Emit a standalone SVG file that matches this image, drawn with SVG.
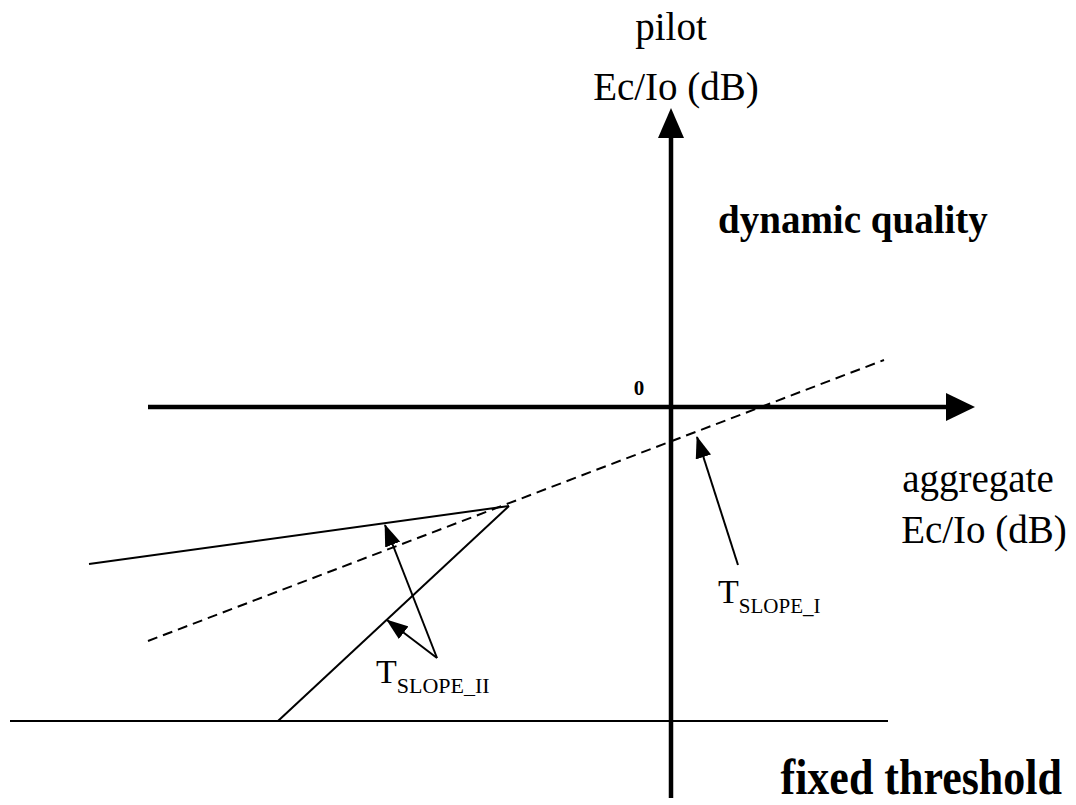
<svg xmlns="http://www.w3.org/2000/svg" width="1076" height="805" viewBox="0 0 1076 805">
<defs>
<style>
.t{font-family:"Liberation Serif","Times New Roman",serif;fill:#000}
.b{font-weight:bold}
.ax{stroke:#000;stroke-width:4.5;fill:none}
.ln{stroke:#000;stroke-width:2;fill:none}
.dash{stroke:#000;stroke-width:2;fill:none;stroke-dasharray:10,6}
</style>
<marker id="ahs" markerWidth="22" markerHeight="16" refX="21" refY="8" orient="auto" markerUnits="userSpaceOnUse">
<path d="M0,0 L22,8 L0,16 Z" fill="#000"/>
</marker>
</defs>
<rect width="1076" height="805" fill="#fff"/>
<g id="connectors">
<line class="ax" x1="671" y1="798" x2="671" y2="134"/>
<polygon points="671,108 658,138 684,138" fill="#000"/>
<line class="ax" x1="148" y1="407" x2="950" y2="407"/>
<polygon points="975,407 946,393 946,421" fill="#000"/>
<line class="ln" x1="10" y1="721" x2="888" y2="721" stroke-width="3"/>
<line class="dash" x1="148" y1="641" x2="884" y2="360"/>
<polyline class="ln" points="89,564 509,506" stroke-width="2.6"/>
<polyline class="ln" points="509,506 278,721"/>
<line class="ln" x1="437" y1="658" x2="385" y2="525" marker-end="url(#ahs)"/>
<line class="ln" x1="437" y1="658" x2="387" y2="620" marker-end="url(#ahs)"/>
<line class="ln" x1="738" y1="565" x2="697" y2="437" marker-end="url(#ahs)"/>
</g>
<g id="y-axis-label">
<text class="t" x="671" y="40" font-size="39" text-anchor="middle">pilot</text>
<text class="t" x="676" y="100" font-size="39" text-anchor="middle">Ec/Io (dB)</text>
</g>
<g id="x-axis-label">
<text class="t" x="978" y="492" font-size="39" text-anchor="middle">aggregate</text>
<text class="t" x="984" y="543" font-size="39" text-anchor="middle">Ec/Io (dB)</text>
</g>
<g id="origin">
<text class="t b" x="639" y="395" font-size="21" text-anchor="middle">0</text>
</g>
<g id="dynamic-quality">
<text class="t b" x="718" y="233" font-size="39">dynamic quality</text>
</g>
<g id="fixed-threshold">
<text class="t b" transform="translate(1062,794) scale(1,1.15)" x="0" y="0" font-size="44" text-anchor="end">fixed threshold</text>
</g>
<g id="t-slope-ii">
<text class="t" x="376" y="683" font-size="34">T<tspan font-size="22" dy="10">SLOPE_II</tspan></text>
</g>
<g id="t-slope-i">
<text class="t" x="718" y="603" font-size="34">T<tspan font-size="21" dy="10">SLOPE_I</tspan></text>
</g>
</svg>
